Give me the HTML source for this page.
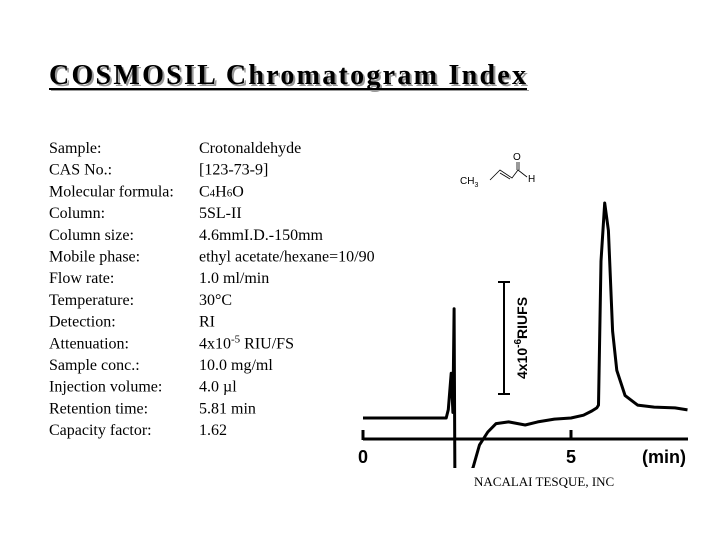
<!DOCTYPE html>
<html><head><meta charset="utf-8"><style>
body{margin:0;background:#fff;}
svg{display:block;font-family:"Liberation Serif",serif;}
</style></head><body>
<svg width="720" height="540" viewBox="0 0 720 540">
<g>
<text x="51" y="86" font-size="28" font-weight="bold" fill="#999" textLength="477">COSMOSIL Chromatogram Index</text>
<text x="49" y="84" font-size="28" font-weight="bold" fill="#000" textLength="477">COSMOSIL Chromatogram Index</text>
<rect x="49" y="88" width="478" height="2" fill="#000"/>
<rect x="51" y="90" width="478" height="1" fill="#999"/>
</g>
<g id="info" font-size="16" fill="#000"></g>
<g font-family="Liberation Sans, sans-serif" font-size="10" fill="#000">
<text x="460" y="184">CH<tspan font-size="7" dy="3">3</tspan></text>
<text x="513" y="160">O</text>
<text x="528" y="182">H</text>
<polyline points="490,180 500,170 512,178 518,170" fill="none" stroke="#000" stroke-width="0.8"/>
<line x1="500" y1="173" x2="510" y2="179" stroke="#000" stroke-width="0.8"/>
<line x1="517" y1="170" x2="517" y2="162" stroke="#000" stroke-width="0.8"/>
<line x1="519" y1="170" x2="519" y2="162" stroke="#000" stroke-width="0.8"/>
<line x1="518" y1="170" x2="527" y2="177" stroke="#000" stroke-width="0.8"/>
</g>
<defs><clipPath id="clip"><rect x="355" y="190" width="340" height="278"/></clipPath></defs>
<g font-family="Liberation Sans, sans-serif" font-weight="bold" font-size="18">
<line x1="363" y1="439" x2="688" y2="439" stroke="#000" stroke-width="3"/>
<line id="tick0" x1="363" y1="430" x2="363" y2="440" stroke="#000" stroke-width="3"/>
<line id="tick5" x1="571" y1="430" x2="571" y2="440" stroke="#000" stroke-width="3"/>
<text id="lab0" x="363" y="463" text-anchor="middle">0</text>
<text id="lab5" x="571" y="463" text-anchor="middle">5</text>
<text x="686" y="463" text-anchor="end">(min)</text>
</g>
<g>
<line x1="504" y1="282" x2="504" y2="394" stroke="#000" stroke-width="2"/>
<line x1="498" y1="282" x2="510" y2="282" stroke="#000" stroke-width="2"/>
<line x1="498" y1="394" x2="510" y2="394" stroke="#000" stroke-width="2"/>
<text transform="translate(527,338) rotate(-90)" text-anchor="middle" font-family="Liberation Sans, sans-serif" font-weight="bold" font-size="14">4x10<tspan dy="-6" font-size="10">-6</tspan><tspan dy="6">RIUFS</tspan></text>
</g>
<path id="trace" clip-path="url(#clip)" fill="none" stroke="#000" stroke-width="3" stroke-linejoin="round"/>
<text x="474" y="486" font-size="13">NACALAI TESQUE, INC</text>
</svg>
<script>
const labels=["Sample:","CAS No.:","Molecular formula:","Column:","Column size:","Mobile phase:","Flow rate:","Temperature:","Detection:","Attenuation:","Sample conc.:","Injection volume:","Retention time:","Capacity factor:"];
const values=["Crotonaldehyde","[123-73-9]","C4H6O","5SL-II","4.6mmI.D.-150mm","ethyl acetate/hexane=10/90","1.0 ml/min","30°C","RI","4x10-5 RIU/FS","10.0 mg/ml","4.0 µl","5.81 min","1.62"];
const times=[0,2.0,2.05,2.12,2.16,2.19,2.21,2.3,2.64,2.8,3.0,3.2,3.5,3.9,4.2,4.6,5.0,5.3,5.5,5.62,5.66,5.72,5.81,5.9,6.0,6.1,6.3,6.6,7.0,7.5,7.8];
const signal=[0,0,0.3,1.6,0.2,3.9,-2.2,-2.2,-1.8,-0.96,-0.5,-0.2,-0.14,-0.25,-0.14,-0.04,0,0.1,0.25,0.36,0.46,5.6,7.68,6.7,3.1,1.7,0.8,0.46,0.39,0.36,0.29];
const xScale=t=>363+t*41.6;
const yScale=v=>418-v*28;
const NS="http://www.w3.org/2000/svg";
const info=document.getElementById('info');
labels.forEach((l,i)=>{
  const y=153+i*21.7;
  const a=document.createElementNS(NS,'text');
  
  
  a.setAttribute('x',49);a.setAttribute('y',y);a.textContent=l;info.appendChild(a);
  const b=document.createElementNS(NS,'text');
  
  
  b.setAttribute('x',199);b.setAttribute('y',y);
  const v=values[i];
  if(v==="C4H6O"){b.innerHTML='C<tspan font-size="11">4</tspan>H<tspan font-size="11">6</tspan>O';}
  else if(v.startsWith("4x10-5")){b.innerHTML='4x10<tspan font-size="11" dy="-6">-5</tspan><tspan dy="6"> RIU/FS</tspan>';}
  else b.textContent=v;
  info.appendChild(b);
});
document.getElementById('trace').setAttribute('d',times.map((t,i)=>(i?'L':'M')+xScale(t).toFixed(1)+','+yScale(signal[i]).toFixed(1)).join(' '));
</script>
</body></html>
